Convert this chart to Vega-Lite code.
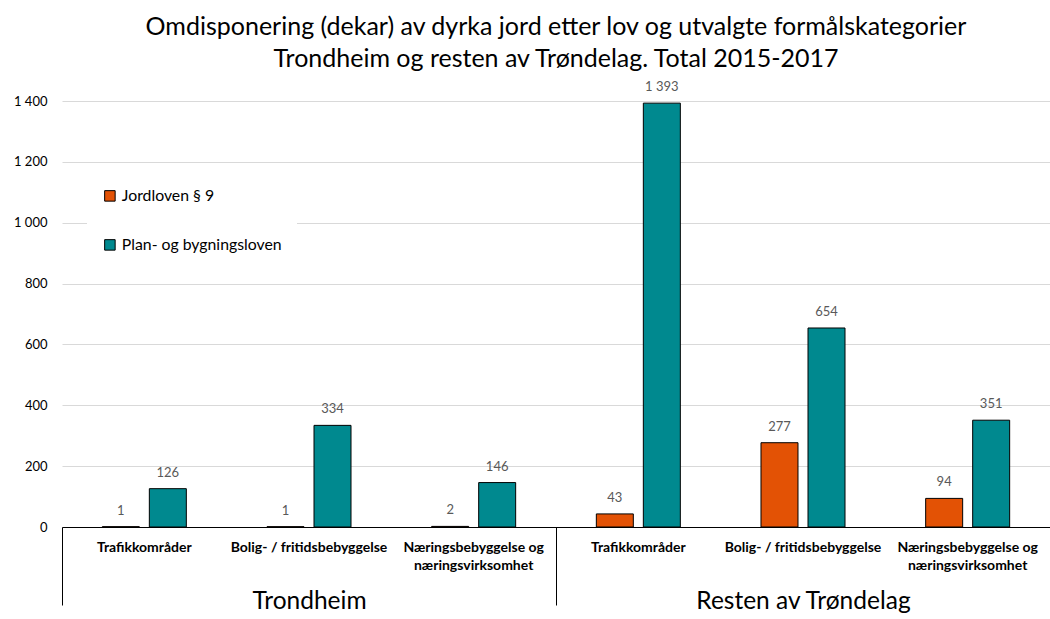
{
  "$schema": "https://vega.github.io/schema/vega-lite/v6.json",
  "width": 988,
  "height": 426,
  "autosize": {"type": "none"},
  "padding": {"left": 62, "top": 101, "right": 0, "bottom": 92},
  "title": {
    "text": ["Omdisponering (dekar) av dyrka jord etter lov og utvalgte formålskategorier", "Trondheim og resten av Trøndelag. Total 2015-2017"],
    "fontSize": 25, "font": "Lato", "fontWeight": "normal", "color": "#000000",
    "anchor": "middle", "offset": 9, "lineHeight": 32
  },
  "config": {
    "locale": {"number": {"decimal": ",", "thousands": " ", "grouping": [3], "currency": ["", " kr"]}},
    "view": {"stroke": null},
    "font": "Lato"
  },
  "data": {"values": [
    {"region": "Trondheim", "key": "T|Trafikkområder", "lov": "Jordloven § 9", "dekar": 1},
    {"region": "Trondheim", "key": "T|Trafikkområder", "lov": "Plan- og bygningsloven", "dekar": 126},
    {"region": "Trondheim", "key": "T|Bolig- / fritidsbebyggelse", "lov": "Jordloven § 9", "dekar": 1},
    {"region": "Trondheim", "key": "T|Bolig- / fritidsbebyggelse", "lov": "Plan- og bygningsloven", "dekar": 334},
    {"region": "Trondheim", "key": "T|Næringsbebyggelse og|næringsvirksomhet", "lov": "Jordloven § 9", "dekar": 2},
    {"region": "Trondheim", "key": "T|Næringsbebyggelse og|næringsvirksomhet", "lov": "Plan- og bygningsloven", "dekar": 146},
    {"region": "Resten av Trøndelag", "key": "R|Trafikkområder", "lov": "Jordloven § 9", "dekar": 43},
    {"region": "Resten av Trøndelag", "key": "R|Trafikkområder", "lov": "Plan- og bygningsloven", "dekar": 1393},
    {"region": "Resten av Trøndelag", "key": "R|Bolig- / fritidsbebyggelse", "lov": "Jordloven § 9", "dekar": 277},
    {"region": "Resten av Trøndelag", "key": "R|Bolig- / fritidsbebyggelse", "lov": "Plan- og bygningsloven", "dekar": 654},
    {"region": "Resten av Trøndelag", "key": "R|Næringsbebyggelse og|næringsvirksomhet", "lov": "Jordloven § 9", "dekar": 94},
    {"region": "Resten av Trøndelag", "key": "R|Næringsbebyggelse og|næringsvirksomhet", "lov": "Plan- og bygningsloven", "dekar": 351}
  ]},
  "layer": [
    {
      "encoding": {
        "x": {
          "field": "key", "type": "nominal",
          "sort": ["T|Trafikkområder", "T|Bolig- / fritidsbebyggelse", "T|Næringsbebyggelse og|næringsvirksomhet", "R|Trafikkområder", "R|Bolig- / fritidsbebyggelse", "R|Næringsbebyggelse og|næringsvirksomhet"],
          "scale": {"paddingInner": 0, "paddingOuter": 0},
          "axis": {
            "title": null, "ticks": false, "domain": true, "domainColor": "#000000", "domainWidth": 1,
            "labelExpr": "slice(split(datum.value, '|'), 1)",
            "labelFontWeight": "bold", "labelFontSize": 14, "labelColor": "#000000",
            "labelPadding": 13, "labelLineHeight": 18, "labelAngle": 0, "labelLimit": 300
          }
        },
        "xOffset": {
          "field": "lov", "type": "nominal", "sort": ["Jordloven § 9", "Plan- og bygningsloven"],
          "scale": {"paddingInner": 0.213, "paddingOuter": 0.858}
        },
        "y": {
          "field": "dekar", "type": "quantitative",
          "scale": {"domain": [0, 1400], "nice": false},
          "axis": {
            "title": null, "domain": false, "ticks": false, "gridColor": "#D9D9D9",
            "labelFontSize": 13, "labelColor": "#000000", "labelPadding": 15,
            "values": [0, 200, 400, 600, 800, 1000, 1200, 1400], "format": ",d"
          }
        }
      },
      "layer": [
        {
          "mark": {"type": "bar", "stroke": "#000000", "strokeWidth": 1},
          "encoding": {
            "color": {
              "field": "lov", "type": "nominal", "sort": ["Jordloven § 9", "Plan- og bygningsloven"],
              "scale": {"range": ["#E35205", "#00898F"]},
              "legend": {
                "title": null, "orient": "none", "legendX": 25, "legendY": 72,
                "fillColor": "white", "padding": 15, "symbolType": "square", "symbolSize": 110,
                "symbolStrokeColor": "#000000", "symbolStrokeWidth": 1, "labelFontSize": 15.8,
                "rowPadding": 32, "labelColor": "#000000", "labelLimit": 300
              }
            }
          }
        },
        {
          "mark": {"type": "text", "baseline": "bottom", "dy": -9, "fontSize": 13, "color": "#595959"},
          "encoding": {"text": {"field": "dekar", "type": "quantitative", "format": ",d"}}
        }
      ]
    },
    {
      "mark": {"type": "text", "text": "", "opacity": 0},
      "encoding": {
        "x": {
          "field": "region", "type": "nominal", "sort": ["Trondheim", "Resten av Trøndelag"],
          "scale": {"paddingInner": 0, "paddingOuter": 0},
          "axis": {
            "orient": "bottom", "title": null, "domain": false, "grid": false,
            "tickBand": "extent", "tickSize": 78, "tickColor": "#000000", "tickWidth": 1,
            "labelFontSize": 24.5, "labelColor": "#000000", "labelPadding": -16,
            "labelAngle": 0, "labelFontWeight": "normal", "labelBaseline": "top", "labelLimit": 400
          }
        }
      }
    }
  ],
  "resolve": {"scale": {"x": "independent"}}
}
